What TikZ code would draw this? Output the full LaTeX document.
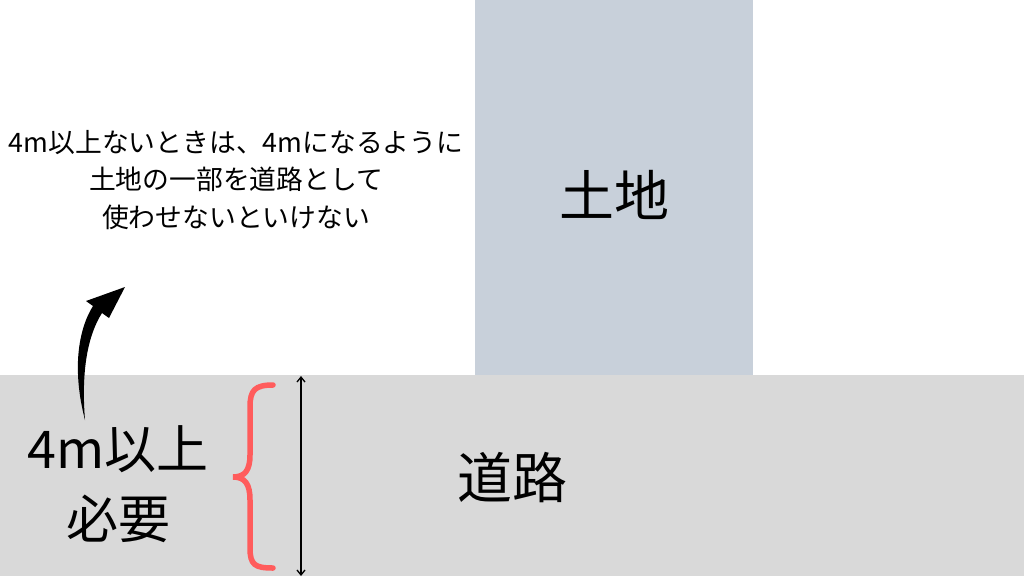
\documentclass[tikz,border=0pt]{standalone}
\usepackage{fontspec}
\setmainfont{Noto Sans CJK JP}
\usetikzlibrary{arrows.meta,positioning}
\definecolor{roadgray}{RGB}{217,217,217}
\definecolor{landblue}{RGB}{200,208,218}
\definecolor{bracered}{RGB}{255,92,92}
\tikzset{
	bigtext/.style={font=\fontsize{52}{70}\selectfont, align=center},
	namebig/.style={font=\fontsize{55}{70}\selectfont},
	notetext/.style={font=\fontsize{26.8}{37.5}\selectfont, align=center}
}

\begin{document}
\begin{tikzpicture}[x=1pt,y=-1pt]
	
	\useasboundingbox (0,0) rectangle (1024,576);
	
	\fill[roadgray] (0,375) rectangle (1024,576);
	\fill[landblue] (475,0) rectangle (753,375);
	
	\node[namebig] (land) at (614,195) {土地};
	\node[namebig] (road) at (512,478) {道路};
	\node[bigtext] (need) at (118,484) {4m以上\\必要};
	
	\node[notetext] (note) at (236,180) {4m以上ないときは、4mになるように\\土地の一部を道路として\\使わせないといけない};
	
	% width of the road
	\coordinate (wtop) at (301,376);
	\coordinate (wbot) at (301,576);
	\draw[{Straight Barb[length=5pt,width=8pt]}-{Straight Barb[length=5pt,width=8pt]}, line width=1.3pt] (wtop) -- (wbot);
	
	% brace
	\draw[bracered, line width=5.5pt, line cap=round] (273,385)
		.. controls (255,385) and (250,390) .. (250,407) -- (250,455)
		.. controls (250,470) and (245,477) .. (233,477)
		.. controls (245,477) and (250,484) .. (250,500) -- (250,548)
		.. controls (250,565) and (255,568) .. (273,568);
	
	% curved arrow
	\coordinate (tail) at (85,420);
	\coordinate (tip) at (125,287);
	\fill (tail) .. controls (72,370) and (78,330) .. (93,306) -- (86,301) -- (tip) -- (109,318) -- (102,313)
		.. controls (88,335) and (81,370) .. (tail) -- cycle;
	
\end{tikzpicture}
\end{document}
